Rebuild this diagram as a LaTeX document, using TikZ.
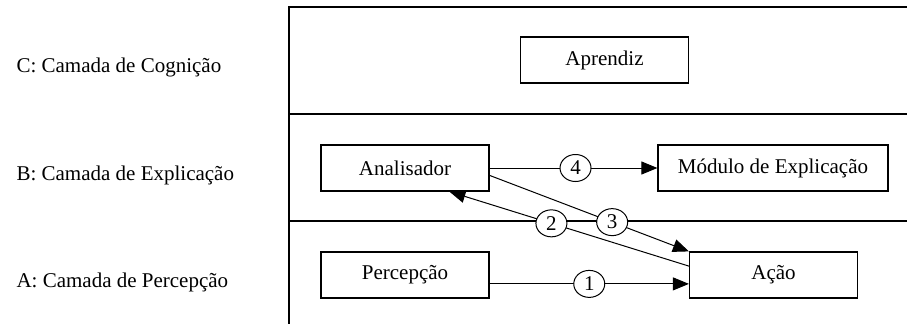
\documentclass[tikz,border=0pt]{standalone}
\usepackage{fontspec}
\setmainfont{Liberation Serif}
\usetikzlibrary{arrows.meta,shapes.geometric}
\begin{document}
\begin{tikzpicture}[x=1pt,y=-1pt,
  font=\fontsize{21}{25}\selectfont,
  frameline/.style={line width=1.6pt},
  block/.style={draw,line width=1.2pt,minimum height=46pt,minimum width=168pt,inner sep=0pt,fill=white},
  link/.style={line width=1pt,-{Triangle[length=16pt,width=13pt]}},
  tag/.style={draw,ellipse,line width=1pt,fill=white,minimum width=31pt,minimum height=27pt,inner sep=0pt},
  layer/.style={anchor=base west}]
\useasboundingbox (0,0) rectangle (907,324);

% layer frame
\draw[frameline] (907,7) -- (289,7) -- (289,324);
\draw[frameline] (289,114) -- (907,114);
\draw[frameline] (289,221) -- (907,221);

% layer names
\node[layer] (lc) at (13,72) {C: Camada de Cognição};
\node[layer] (lb) at (13,180) {B: Camada de Explicação};
\node[layer] (la) at (13,287) {A: Camada de Percepção};

% modules
\node[block] (apr) at (604.5,60) {Aprendiz};
\node[block] (ana) at (405,168) {Analisador};
\node[block,minimum width=230pt] (mod) at (773,168) {Módulo de Explicação};
\node[block] (per) at (405,275) {Percepção};
\node[block] (aca) at (773.5,275) {Ação};

% numbered flows
\draw[link] (per.-6.1) -- node[tag,pos=0.5] (n1) {1} (aca.186.1);
\draw[link] (aca.174.6) -- node[tag,pos=0.574] (n2) {2} (ana.-28.7);
\draw[link] (ana.-5.4) -- node[tag,pos=0.615] (n3) {3} (aca.north west);
\draw[link] (ana.east) -- node[tag,pos=0.512] (n4) {4} (mod.west);
\end{tikzpicture}
\end{document}
